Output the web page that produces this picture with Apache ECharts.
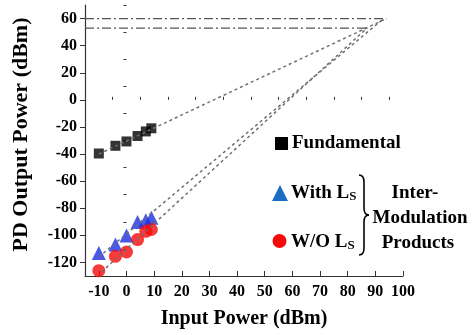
<!DOCTYPE html>
<html>
<head>
<meta charset="utf-8">
<script src="https://cdn.jsdelivr.net/npm/echarts@6/dist/echarts.min.js"></script>
<style>html,body{margin:0;padding:0;background:#fff}#c{width:476px;height:335px}</style>
</head>
<body>
<div id="c"></div>
<script>
// ---- data ----
var inputPower = [-10, -4, 0, 4, 7, 9];
var fundamental = [-39.6, -33.9, -30.7, -26.7, -23.3, -21.0];
var withLs = [-113.1, -106.8, -100.1, -90.1, -88.8, -87.1];
var withoutLs = [-126.1, -115.5, -112.3, -103.1, -97.0, -95.7];
var fundFit = [[-10, -40], [94, 60]];
var withFit = [[-10, -116], [93, 60]];
var withoutFit = [[-9, -127], [87, 53]];
var oip3With = [[-15, 60], [94, 60]];
var oip3Without = [[-15, 53], [87, 53]];
var yLabels = [-120, -100, -80, -60, -40, -20, 0, 20, 40, 60];
var yMinor = [-130, -110, -90, -70, -50, -30, -10, 10, 30, 50, 70];
var xLabels = [-10, 0, 10, 20, 30, 40, 50, 60, 70, 80, 90, 100];
var xMinor = [-5, 5, 15, 25, 35, 45, 55, 65, 75, 85, 95];

function pairs(xs, ys) { return xs.map(function (x, i) { return [x, ys[i]]; }); }

var FONT = '"Liberation Serif", "Times New Roman", serif';
var axisColor = '#333';
var dotStyle = { color: '#707070', width: 1.5, type: [3, 3] };
var dashDot = { color: '#555', width: 1.3, type: [9, 3, 2, 3] };
var braceStyle = { stroke: '#000', lineWidth: 1.6, fill: null };

var chart = echarts.init(document.getElementById('c'));
chart.setOption({
  animation: false,
  grid: { left: 85, right: 73, top: 5, bottom: 59 },
  xAxis: [{
    type: 'value', min: -15, max: 100,
    axisLine: { show: true, onZero: false, lineStyle: { color: axisColor, width: 1.2 } },
    axisTick: { show: true, inside: true, length: 5, customValues: xLabels, lineStyle: { color: axisColor } },
    axisLabel: { customValues: xLabels, color: '#000', fontFamily: FONT, fontWeight: 'bold', fontSize: 16, margin: 8 },
    splitLine: { show: false },
    name: 'Input Power (dBm)', nameLocation: 'middle', nameGap: 33,
    nameTextStyle: { color: '#000', fontFamily: FONT, fontWeight: 'bold', fontSize: 20 }
  }, {
    type: 'value', min: -15, max: 100, position: 'bottom',
    axisLine: { show: false },
    axisTick: { show: true, inside: true, length: 3, customValues: xMinor, lineStyle: { color: axisColor } },
    axisLabel: { show: false }, splitLine: { show: false }
  }],
  yAxis: [{
    type: 'value', min: -130, max: 70,
    axisLine: { show: true, onZero: false, lineStyle: { color: axisColor, width: 1.2 } },
    axisTick: { show: true, length: 5, customValues: yLabels, lineStyle: { color: axisColor } },
    axisLabel: { customValues: yLabels, color: '#000', fontFamily: FONT, fontWeight: 'bold', fontSize: 16, margin: 8 },
    splitLine: { show: false },
    name: 'PD Output Power (dBm)', nameLocation: 'middle', nameGap: 53,
    nameTextStyle: { color: '#000', fontFamily: FONT, fontWeight: 'bold', fontSize: 22, padding: [0, 0, 0, 12] }
  }, {
    type: 'value', min: -130, max: 70, position: 'left',
    axisLine: { show: false },
    axisTick: { show: true, length: 3, customValues: yMinor, lineStyle: { color: axisColor } },
    axisLabel: { show: false }, splitLine: { show: false }
  }],
  series: [
    { type: 'scatter', data: pairs(inputPower, fundamental), symbol: 'rect', symbolSize: 10,
      itemStyle: { color: '#000' }, z: 2 },
    { type: 'scatter', data: pairs(inputPower, withLs), symbol: 'triangle', symbolSize: 14,
      itemStyle: { color: '#1a2fe0' }, z: 2 },
    { type: 'scatter', data: pairs(inputPower, withoutLs), symbol: 'circle', symbolSize: 13,
      itemStyle: { color: '#f50a0a' }, z: 2 },
    { type: 'line', data: fundFit, showSymbol: false, symbol: 'none', lineStyle: dotStyle, z: 3 },
    { type: 'line', data: withFit, showSymbol: false, symbol: 'none', lineStyle: dotStyle, z: 3 },
    { type: 'line', data: withoutFit, showSymbol: false, symbol: 'none', lineStyle: dotStyle, z: 3 },
    { type: 'line', data: oip3With, showSymbol: false, symbol: 'none', lineStyle: dashDot, z: 3 },
    { type: 'line', data: oip3Without, showSymbol: false, symbol: 'none', lineStyle: dashDot, z: 3 }
  ],
  graphic: [
    { type: 'rect', shape: { x: 275, y: 137, width: 13, height: 13 }, style: { fill: '#000' } },
    { type: 'text', x: 292, y: 143.5, style: { text: 'Fundamental', font: 'bold 19px ' + FONT, fill: '#000', verticalAlign: 'middle' } },
    { type: 'polygon', shape: { points: [[280, 185], [288, 201], [272, 201]] }, style: { fill: '#1c6cc4' } },
    { type: 'text', x: 291, y: 193, style: {
        text: '{a|With L}{s|S}', verticalAlign: 'middle',
        rich: { a: { font: 'bold 19px ' + FONT, fill: '#000' }, s: { font: 'bold 13px ' + FONT, fill: '#000', padding: [8, 0, 0, 0] } } } },
    { type: 'circle', shape: { cx: 279.5, cy: 241, r: 7 }, style: { fill: '#f50a0a' } },
    { type: 'text', x: 291, y: 242, style: {
        text: '{a|W/O L}{s|S}', verticalAlign: 'middle',
        rich: { a: { font: 'bold 19px ' + FONT, fill: '#000' }, s: { font: 'bold 13px ' + FONT, fill: '#000', padding: [8, 0, 0, 0] } } } },
    { type: 'bezierCurve', shape: { x1: 359, y1: 175, x2: 364, y2: 182, cpx1: 364, cpy1: 175 }, style: braceStyle },
    { type: 'line', shape: { x1: 364, y1: 182, x2: 364, y2: 208 }, style: braceStyle },
    { type: 'bezierCurve', shape: { x1: 364, y1: 208, x2: 369, y2: 215, cpx1: 364, cpy1: 215 }, style: braceStyle },
    { type: 'bezierCurve', shape: { x1: 369, y1: 215, x2: 364, y2: 222, cpx1: 364, cpy1: 215 }, style: braceStyle },
    { type: 'line', shape: { x1: 364, y1: 222, x2: 364, y2: 248 }, style: braceStyle },
    { type: 'bezierCurve', shape: { x1: 364, y1: 248, x2: 359, y2: 255, cpx1: 364, cpy1: 255 }, style: braceStyle },
    { type: 'text', x: 415, y: 193, style: { text: 'Inter-', font: 'bold 19px ' + FONT, fill: '#000', align: 'center', verticalAlign: 'middle' } },
    { type: 'text', x: 420, y: 218, style: { text: 'Modulation', font: 'bold 19px ' + FONT, fill: '#000', align: 'center', verticalAlign: 'middle' } },
    { type: 'text', x: 418, y: 243, style: { text: 'Products', font: 'bold 19px ' + FONT, fill: '#000', align: 'center', verticalAlign: 'middle' } }
  ]
});
</script>
</body>
</html>
